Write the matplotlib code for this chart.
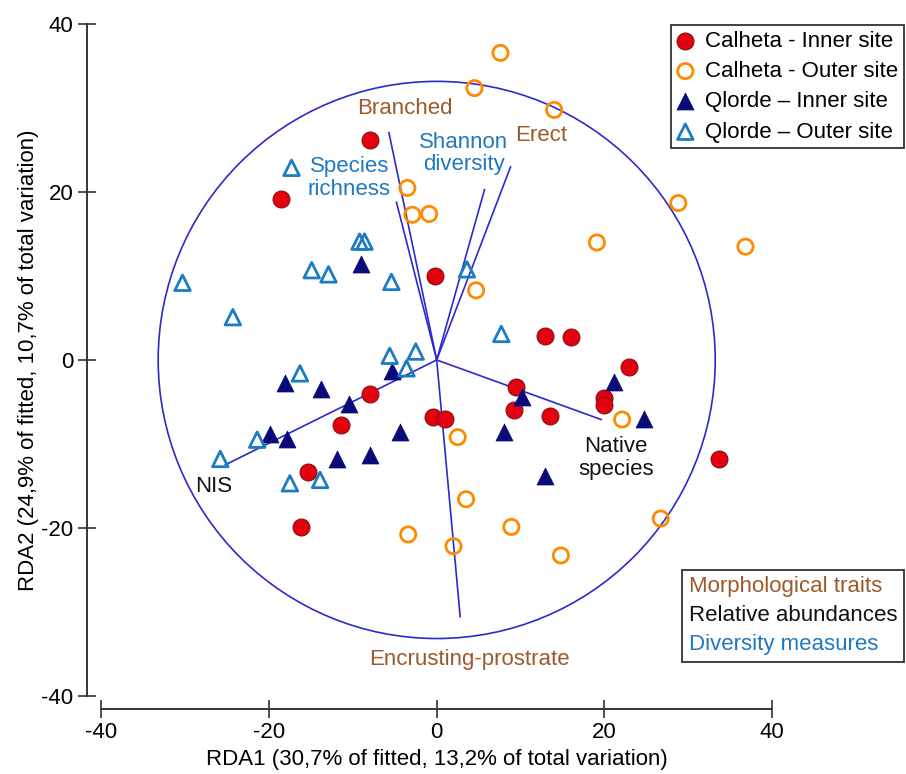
import matplotlib
matplotlib.use("Agg")
import matplotlib.pyplot as plt
from matplotlib.patches import Circle
from matplotlib.lines import Line2D

plt.rcParams['font.family'] = ['Liberation Sans', 'DejaVu Sans']
plt.rcParams['axes.unicode_minus'] = False

# RDA site scores
calheta_in_x = [-8.0, -18.6, -0.2, 12.9, 16.0, 22.9, 9.4, 9.2, 13.5, 20.0, 19.9, -0.4, 1.0, 33.6, -7.9, -11.4, -15.3, -16.2]
calheta_in_y = [26.2, 19.2, 10.0, 2.8, 2.7, -0.8, -3.2, -6.0, -6.7, -4.5, -5.4, -6.8, -7.0, -11.8, -4.0, -7.7, -13.4, -19.9]

calheta_out_x = [7.6, 4.5, 14.0, -3.5, -2.9, -0.9, 28.8, 19.1, 36.8, 4.7, 22.1, 2.5, 3.5, 8.9, -3.4, 2.0, 14.8, 26.7]
calheta_out_y = [36.6, 32.4, 29.8, 20.5, 17.3, 17.4, 18.7, 14.0, 13.5, 8.3, -7.1, -9.2, -16.6, -19.9, -20.8, -22.2, -23.3, -18.9]

qlorde_in_x = [-9.0, -18.1, -13.8, -10.4, -5.3, -19.9, -17.9, -4.4, -11.9, -8.0, 10.2, 8.0, 21.1, 24.7, 12.9]
qlorde_in_y = [11.4, -2.8, -3.5, -5.2, -1.3, -8.8, -9.4, -8.6, -11.8, -11.3, -4.4, -8.6, -2.6, -7.0, -13.8]

qlorde_out_x = [-17.3, -9.2, -8.6, -30.3, -24.3, -14.9, -12.9, -5.4, -5.6, -2.5, -3.6, -16.3, -21.4, -25.8, -17.5, -13.9, 3.6, 7.7]
qlorde_out_y = [22.9, 14.1, 14.1, 9.2, 5.1, 10.7, 10.2, 9.3, 0.5, 1.0, -1.0, -1.6, -9.5, -11.8, -14.7, -14.3, 10.8, 3.1]

# biplot vectors
vec_names = ['Branched', 'Species\nrichness', 'Shannon\ndiversity', 'Erect', 'Native\nspecies', 'NIS', 'Encrusting-prostrate']
vec_x = [-5.7, -4.8, 5.7, 8.8, 19.6, -25.2, 2.8]
vec_y = [27.1, 18.8, 20.3, 23.0, -7.1, -12.5, -30.6]
vec_group = ['morph', 'div', 'div', 'morph', 'abund', 'abund', 'morph']
lab_x = [-3.8, -10.4, 3.2, 12.4, 21.4, -26.6, 3.9]
lab_y = [30.0, 21.7, 24.6, 26.7, -11.7, -15.1, -35.7]
circle_r = 33.2

group_names = ['Morphological traits', 'Relative abundances', 'Diversity measures']
group_keys = ['morph', 'abund', 'div']
group_cols = {'morph': '#9C5A2C', 'abund': '#111111', 'div': '#1F78C1'}

line_col = '#2B2BCB'

W, H = 906, 774
fig = plt.figure(figsize=(W / 100, H / 100), dpi=100)
ax = fig.add_axes([86.7 / W, 65 / H, (W - 86.7) / W, 709 / H])
ax.set_xlim(-41.72, 55.94)
ax.set_ylim(-41.6, 42.9)

ax.add_patch(Circle((0, 0), circle_r, fill=False, ec=line_col, lw=1.2, zorder=1))
for vx, vy in zip(vec_x, vec_y):
    ax.plot([0, vx], [0, vy], color=line_col, lw=1.2, zorder=1)
for name, tx, ty, g in zip(vec_names, lab_x, lab_y, vec_group):
    ax.text(tx, ty, name, color=group_cols[g], fontsize=16, ha='center', va='center',
            linespacing=1.1, zorder=2)

h1 = ax.scatter(calheta_in_x, calheta_in_y, s=150, marker='o', c='#E3000F', edgecolors='#7A1010',
                linewidths=0.7, zorder=3, label='Calheta - Inner site')
h2 = ax.scatter(calheta_out_x, calheta_out_y, s=120, marker='o', facecolors='none', edgecolors='#FF8A00',
                linewidths=2.0, zorder=3, label='Calheta - Outer site')
h3 = ax.scatter(qlorde_in_x, qlorde_in_y, s=150, marker='^', c='#0A0A78', edgecolors='#0A0A78',
                linewidths=0.5, zorder=3, label='Qlorde \u2013 Inner site')
h4 = ax.scatter(qlorde_out_x, qlorde_out_y, s=125, marker='^', facecolors='none', edgecolors='#1A7CC1',
                linewidths=2.0, zorder=3, label='Qlorde \u2013 Outer site')

for s in ['top', 'right']:
    ax.spines[s].set_visible(False)
for s in ['left', 'bottom']:
    ax.spines[s].set_bounds(-40, 40)
    ax.spines[s].set_color('#333333')
    ax.spines[s].set_linewidth(1.4)
ax.set_xticks([-40, -20, 0, 20, 40])
ax.set_yticks([-40, -20, 0, 20, 40])
ax.tick_params(direction='inout', length=13, width=1.2, labelsize=16, color='#333333', pad=3)

ax.set_xlabel('RDA1 (30,7% of fitted, 13,2% of total variation)', fontsize=16)
ax.set_ylabel('RDA2 (24,9% of fitted, 10,7% of total variation)', fontsize=16)
ax.xaxis.set_label_coords(0.4276, -0.056)
ax.yaxis.set_label_coords(-0.058, 0.492)

leg1 = ax.legend(handles=[h1, h2, h3, h4], loc='upper right', bbox_to_anchor=(904 / W, 1 - 25 / H),
                 bbox_transform=fig.transFigure, fancybox=False, edgecolor='#333333', framealpha=1,
                 fontsize=16, labelspacing=0.42, handlelength=0.8, handletextpad=0.5,
                 borderpad=0.25, borderaxespad=0, scatterpoints=1)
leg1.get_frame().set_linewidth(1.3)
ax.add_artist(leg1)

blank = [Line2D([], [], linestyle='none') for _ in group_names]
leg2 = ax.legend(blank, group_names, loc='lower right', bbox_to_anchor=(904 / W, 1 - 662 / H),
                 bbox_transform=fig.transFigure, fancybox=False, edgecolor='#333333', framealpha=1,
                 fontsize=16, labelspacing=0.36, handlelength=0, handletextpad=0,
                 borderpad=0.3, borderaxespad=0)
leg2.get_frame().set_linewidth(1.3)
for t, k in zip(leg2.get_texts(), group_keys):
    t.set_color(group_cols[k])

fig.savefig('out.png', dpi=100)
